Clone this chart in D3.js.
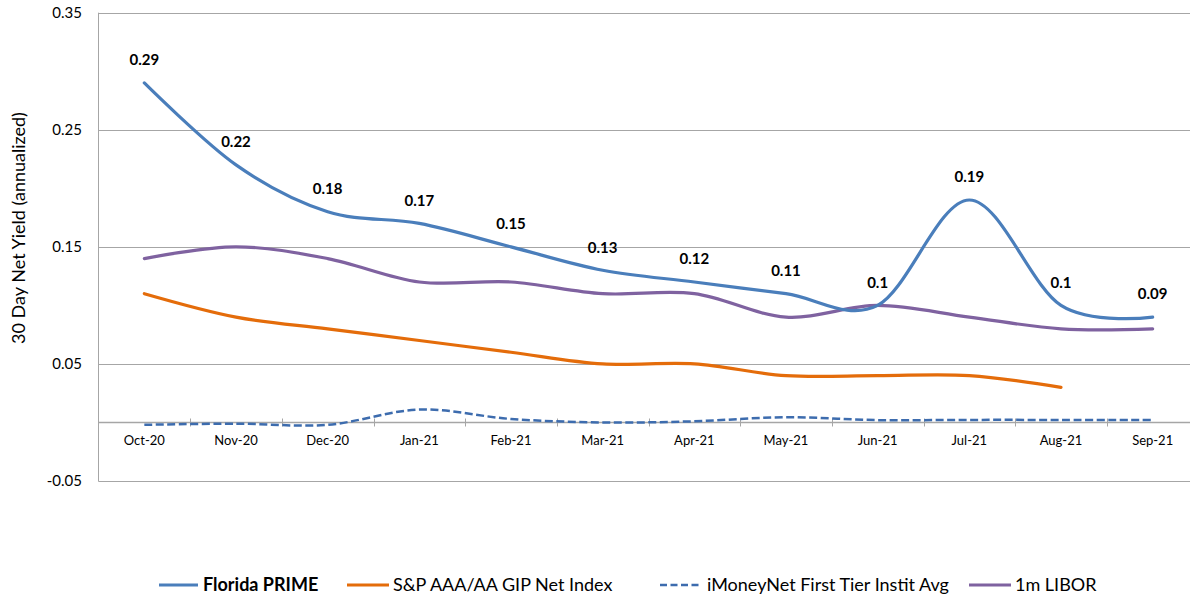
<!DOCTYPE html>
<html><head><meta charset="utf-8">
<script src="https://cdn.jsdelivr.net/npm/d3@7"></script>
<style>
html,body{margin:0;padding:0;background:#fff;}
svg{display:block;font-family:Lato,"Open Sans",sans-serif;}
</style></head>
<body><svg id="c" width="1190" height="599"></svg>
<script>
const categories = ["Oct-20","Nov-20","Dec-20","Jan-21","Feb-21","Mar-21","Apr-21","May-21","Jun-21","Jul-21","Aug-21","Sep-21"];
const floridaPrime = [0.29,0.22,0.18,0.17,0.15,0.13,0.12,0.11,0.1,0.19,0.1,0.09];
const spGip = [0.11,0.09,0.08,0.07,0.06,0.05,0.05,0.04,0.04,0.04,0.03,null];
const iMoneyNet = [-0.002,-0.001,-0.002,0.011,0.003,0.0,0.001,0.0045,0.002,0.0022,0.0022,0.0022];
const libor = [0.14,0.15,0.14,0.12,0.12,0.11,0.11,0.09,0.10,0.09,0.08,0.08];
const yTicks = [0.35,0.25,0.15,0.05,-0.05];
const yTickLabels = ["0.35","0.25","0.15","0.05","-0.05"];
const primeLabels = ["0.29","0.22","0.18","0.17","0.15","0.13","0.12","0.11","0.1","0.19","0.1","0.09"];
const seriesNames = ["Florida PRIME","S&P AAA/AA GIP Net Index","iMoneyNet First Tier Instit Avg","1m LIBOR"];

const svg = d3.select("#c");
const left = 98.5, right = 1198.5;
const x = d3.scaleBand().domain(categories).range([left, right]);
const y = d3.scaleLinear().domain([-0.05, 0.35]).range([481, 12.7]);
const cx = c => x(c) + x.bandwidth()/2;

const gridColor = "#a6a6a6";
// gridlines
svg.append("g").selectAll("line").data(yTicks).join("line")
  .attr("x1", left).attr("x2", right)
  .attr("y1", d => Math.round(y(d))+0.5).attr("y2", d => Math.round(y(d))+0.5)
  .attr("stroke", gridColor).attr("stroke-width", 1);
// left axis line
svg.append("line").attr("x1", left).attr("x2", left).attr("y1", y(0.35)).attr("y2", y(-0.05)+0.5)
  .attr("stroke", gridColor).attr("stroke-width", 1);
// y tick labels
svg.append("g").selectAll("text").data(yTicks).join("text")
  .attr("x", 82).attr("y", d => y(d)).attr("dy", "0.35em")
  .attr("text-anchor", "end").attr("font-size", 15).attr("fill", "#000")
  .text((d,i) => yTickLabels[i]);
// y title
svg.append("text").attr("transform", `translate(25,228) rotate(-90)`)
  .attr("text-anchor", "middle").attr("font-size", 18).attr("fill", "#000")
  .text("30 Day Net Yield (annualized)");

// x axis at zero
const y0 = Math.round(y(0))+0.5;
svg.append("line").attr("x1", left).attr("x2", right).attr("y1", y0).attr("y2", y0)
  .attr("stroke", gridColor).attr("stroke-width", 1.5);
const tickXs = categories.map(c => x(c)).slice(1).concat([x(categories[categories.length-1]) + x.bandwidth()]);
svg.append("g").selectAll("line").data(tickXs).join("line")
  .attr("x1", d => Math.round(d)+0.5).attr("x2", d => Math.round(d)+0.5)
  .attr("y1", y0-4).attr("y2", y0+4).attr("stroke", gridColor).attr("stroke-width", 1);
svg.append("g").selectAll("text").data(categories).join("text")
  .attr("x", d => cx(d)).attr("y", 440).attr("dy", "0.35em")
  .attr("text-anchor", "middle").attr("font-size", 13).attr("fill", "#000").text(d => d);

const line = d3.line()
  .defined(d => d.v !== null)
  .x(d => cx(d.c)).y(d => y(d.v))
  .curve(d3.curveCatmullRom.alpha(0));
const mk = arr => categories.map((c,i) => ({c, v: arr[i]}));

const colors = {prime:"#4a7ebb", sp:"#e46c0a", imn:"#3d6cae", libor:"#7f62a0"};

svg.append("path").datum(mk(spGip)).attr("d", line).attr("fill","none")
  .attr("stroke", colors.sp).attr("stroke-width", 3.2).attr("stroke-linecap","round");
svg.append("path").datum(mk(iMoneyNet)).attr("d", line).attr("fill","none")
  .attr("stroke", colors.imn).attr("stroke-width", 2.5).attr("stroke-dasharray","8,3.5");
svg.append("path").datum(mk(libor)).attr("d", line).attr("fill","none")
  .attr("stroke", colors.libor).attr("stroke-width", 3.2).attr("stroke-linecap","round");
svg.append("path").datum(mk(floridaPrime)).attr("d", line).attr("fill","none")
  .attr("stroke", colors.prime).attr("stroke-width", 3.2).attr("stroke-linecap","round");

// data labels
svg.append("g").selectAll("text").data(mk(floridaPrime)).join("text")
  .attr("x", d => cx(d.c)).attr("y", d => y(d.v) - 23).attr("dy", "0.35em")
  .attr("text-anchor", "middle").attr("font-size", 15).attr("font-weight", "bold").attr("fill", "#000")
  .text((d,i) => primeLabels[i]);

// legend
const legend = [
  {name: seriesNames[0], x1:159, x2:198, tx:203, color:colors.prime, dash:null, bold:true},
  {name: seriesNames[1], x1:347, x2:389, tx:393, color:colors.sp, dash:null, bold:false},
  {name: seriesNames[2], x1:660, x2:702, tx:707, color:colors.imn, dash:"7,3.5", bold:false},
  {name: seriesNames[3], x1:969, x2:1011, tx:1015, color:colors.libor, dash:null, bold:false}
];
const lg = svg.append("g");
legend.forEach(l => {
  lg.append("line").attr("x1", l.x1).attr("x2", l.x2).attr("y1", 585).attr("y2", 585)
    .attr("stroke", l.color).attr("stroke-width", l.dash ? 2.5 : 3.2)
    .attr("stroke-dasharray", l.dash);
  lg.append("text").attr("x", l.tx).attr("y", 585).attr("dy", "0.35em")
    .attr("font-size", 18).attr("font-weight", l.bold ? "bold" : "normal").attr("fill", "#000")
    .text(l.name);
});
</script></body></html>
